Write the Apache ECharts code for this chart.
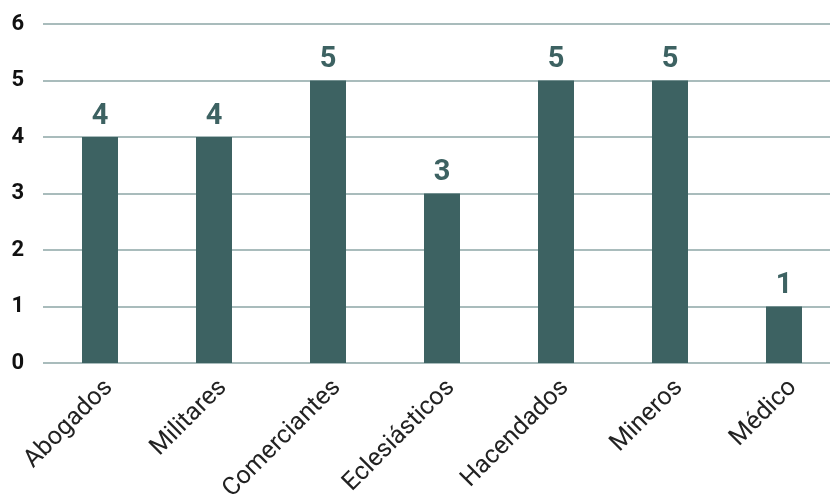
<!DOCTYPE html>
<html>
<head>
<meta charset="utf-8">
<script src="https://cdn.jsdelivr.net/npm/echarts@6/dist/echarts.min.js"></script>
<style>
  html, body { margin: 0; padding: 0; background: #fff; }
  #chart { width: 830px; height: 499px; }
</style>
</head>
<body>
<div id="chart"></div>
<script>
// categories and values
const categories = ['Abogados', 'Militares', 'Comerciantes', 'Eclesiásticos', 'Hacendados', 'Mineros', 'Médico'];
const values = [4, 4, 5, 3, 5, 5, 1];
const yTicks = [0, 1, 2, 3, 4, 5, 6];

const chart = echarts.init(document.getElementById('chart'));

chart.setOption({
  animation: false,
  grid: { left: 43, right: -11, top: 24, bottom: 136, outerBoundsMode: 'none', containLabel: false },
  xAxis: {
    type: 'category',
    data: categories,
    axisLine: { show: false },
    axisTick: { show: false },
    axisLabel: {
      rotate: 45,
      interval: 0,
      margin: 12,
      verticalAlign: 'top',
      color: '#222',
      fontFamily: 'Roboto',
      fontSize: 25
    }
  },
  yAxis: {
    type: 'value',
    min: yTicks[0],
    max: yTicks[yTicks.length - 1],
    interval: 1,
    axisLine: { show: false },
    axisTick: { show: false },
    axisLabel: {
      margin: 19,
      color: '#111',
      fontFamily: 'Roboto',
      fontWeight: 'bold',
      fontSize: 22
    },
    splitLine: { lineStyle: { color: '#a9bcbc', width: 2 } }
  },
  series: [{
    type: 'bar',
    data: values,
    barWidth: 36,
    itemStyle: { color: '#3d6262' },
    label: {
      show: true,
      position: 'top',
      distance: 6,
      color: '#3d6262',
      fontFamily: 'Roboto',
      fontWeight: 'bold',
      fontSize: 29
    }
  }]
});
</script>
</body>
</html>
